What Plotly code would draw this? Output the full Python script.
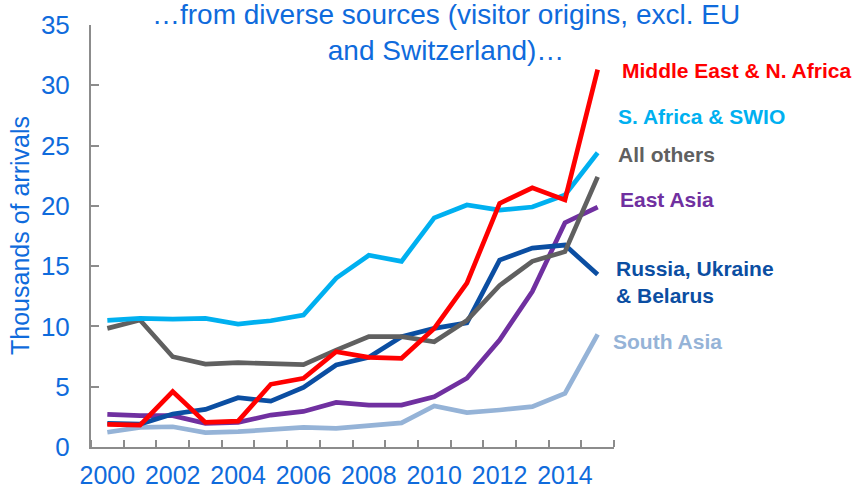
import plotly.graph_objects as go

years = list(range(2000, 2016))
tick_years = [2000, 2002, 2004, 2006, 2008, 2010, 2012, 2014]

me_na = [1.88, 1.82, 4.59, 2.04, 2.15, 5.2, 5.69, 7.9, 7.44, 7.36, 9.84, 13.6, 20.2, 21.5, 20.5, 31.3]
s_africa = [10.5, 10.67, 10.6, 10.67, 10.2, 10.47, 10.95, 14.0, 15.9, 15.4, 19.0, 20.07, 19.65, 19.9, 20.9, 24.4]
all_others = [9.84, 10.53, 7.49, 6.88, 6.99, 6.94, 6.83, 8.04, 9.15, 9.15, 8.73, 10.5, 13.4, 15.4, 16.2, 22.4]
east_asia = [2.71, 2.6, 2.6, 1.96, 2.04, 2.65, 2.95, 3.7, 3.48, 3.48, 4.17, 5.7, 8.87, 12.9, 18.6, 19.9]
russia = [1.96, 1.9, 2.74, 3.12, 4.09, 3.81, 4.95, 6.8, 7.44, 9.15, 9.84, 10.3, 15.5, 16.5, 16.75, 14.3]
south_asia = [1.22, 1.63, 1.68, 1.19, 1.27, 1.41, 1.62, 1.55, 1.74, 2.0, 3.4, 2.85, 3.07, 3.35, 4.45, 9.34]

BLUE_TXT = "#0F6BDC"
AXIS = "#8C8C8C"
FONT = "Liberation Sans, Arial, sans-serif"

PLOT_L, PLOT_W = 91, 523

# (name, values, colour, label text, label left px, label y value) drawn back to front
series = [
    ("South Asia", south_asia, "#95B3D7", "South Asia", 611, 8.79),
    ("East Asia", east_asia, "#7030A0", "East Asia", 618, 20.49),
    ("Russia, Ukraine & Belarus", russia, "#0B4EA2", "Russia, Ukraine<br>& Belarus", 614, 13.69),
    ("All others", all_others, "#606060", "All others", 616, 24.22),
    ("S. Africa & SWIO", s_africa, "#00B0F0", "S. Africa & SWIO", 616, 27.45),
    ("Middle East & N. Africa", me_na, "#FF0000", "Middle East & N. Africa", 620, 31.23),
]

fig = go.Figure()
annotations = []
for name, vals, col, lab, lpx, ly in series:
    fig.add_trace(go.Scatter(x=years, y=vals, mode="lines", name=name,
                             line=dict(color=col, width=4.7)))
    annotations.append(dict(x=(lpx - PLOT_L) / PLOT_W, y=ly / 35, xref="paper", yref="paper",
                            text="<b>" + lab + "</b>",
                            showarrow=False, xanchor="left", yanchor="middle", align="left",
                            font=dict(family=FONT, size=21, color=col)))

annotations.append(dict(x=(446 - PLOT_L) / PLOT_W, y=0.983, xref="paper", yref="paper",
                        text="…from diverse sources (visitor origins, excl. EU<br>and Switzerland)…",
                        showarrow=False, xanchor="center", yanchor="middle", align="center",
                        font=dict(family=FONT, size=28, color=BLUE_TXT)))
annotations.append(dict(x=(20 - PLOT_L) / PLOT_W, y=0.5, xref="paper", yref="paper",
                        text="Thousands of arrivals", textangle=-90,
                        showarrow=False, xanchor="center", yanchor="middle",
                        font=dict(family=FONT, size=25, color=BLUE_TXT)))

fig.update_layout(
    width=866, height=490,
    margin=dict(l=91, r=252, t=25, b=43, autoexpand=False),
    paper_bgcolor="white", plot_bgcolor="white",
    showlegend=False,
    annotations=annotations,
    font=dict(family=FONT, color=BLUE_TXT),
)
fig.update_xaxes(range=[1999.5, 2015.5], tickvals=tick_years, ticktext=[str(t) for t in tick_years],
                 ticks="", showgrid=False, zeroline=False, showline=True, linecolor=AXIS, linewidth=2,
                 automargin=False,
                 tickfont=dict(family=FONT, size=25, color=BLUE_TXT), ticklabelstandoff=5,
                 minor=dict(tickvals=[1999.5 + i for i in range(17)], ticks="inside",
                            ticklen=7, tickwidth=2, tickcolor=AXIS, showgrid=False))
fig.update_yaxes(range=[0, 35], dtick=5, tick0=0, ticks="inside", ticklen=8, tickwidth=2, tickcolor=AXIS,
                 showgrid=False, zeroline=False, showline=True, linecolor=AXIS, linewidth=2,
                 automargin=False,
                 tickfont=dict(family=FONT, size=26, color=BLUE_TXT), ticklabelstandoff=14)

fig.write_html("out.html")
